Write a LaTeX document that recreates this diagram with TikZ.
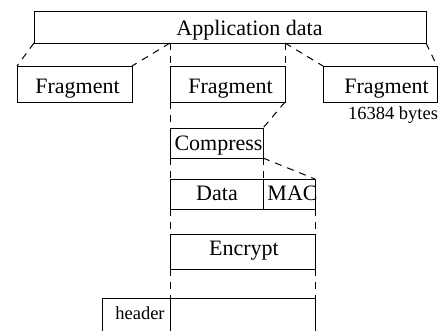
\documentclass[tikz,border=0pt]{standalone}
\usepackage{fontspec}
\setmainfont{Liberation Serif}
\begin{document}
\begin{tikzpicture}[x=1pt,y=-1pt,
  box/.style={draw, line width=1pt, inner sep=0pt, outer sep=0pt, anchor=north west},
  conn/.style={line width=1pt, dash pattern=on 7pt off 6pt},
  lbl/.style={inner sep=0pt, anchor=base, font=\fontsize{22}{26}\selectfont},
  small/.style={inner sep=0pt, anchor=base, font=\fontsize{18.5}{22}\selectfont}]
\useasboundingbox (0,0) rectangle (441,330);
% boxes
\node[box, minimum width=392pt, minimum height=32pt] (app) at (34,11) {};
\node[box, minimum width=115pt, minimum height=36pt] (f1) at (17,66) {};
\node[box, minimum width=115pt, minimum height=36pt] (f2) at (170,66) {};
\node[box, minimum width=114pt, minimum height=36pt] (f3) at (323,66) {};
\node[box, minimum width=93pt, minimum height=30pt] (comp) at (170,128) {};
\node[box, minimum width=93pt, minimum height=30pt] (data) at (170,179) {};
\node[box, minimum width=52pt, minimum height=30pt] (mac) at (263,179) {};
\node[box, minimum width=145pt, minimum height=35pt] (enc) at (170,234) {};
\node[box, minimum width=68pt, minimum height=45pt] (hdr) at (102,298) {};
\node[box, minimum width=145pt, minimum height=45pt] (pay) at (170,298) {};
% labels
\node[lbl] (tapp) at (249.5,35) {Application data};
\node[lbl] (tf1) at (77.5,93) {Fragment};
\node[lbl] (tf2) at (230.5,93) {Fragment};
\node[lbl] (tf3) at (386.5,93) {Fragment};
\node[small] (tbytes) at (393,119) {16384 bytes};
\node[lbl] (tcomp) at (218.5,150) {Compress};
\node[lbl] (tdata) at (217,200) {Data};
\node[lbl] (tmac) at (292.5,200) {MAC};
\node[lbl] (tenc) at (244,255) {Encrypt};
\node[small] (thdr) at (140,319) {header};
% connectors
\coordinate (a1) at (f2.north west |- app.south);
\coordinate (a2) at (f2.north east |- app.south);
\draw[conn] (app.south west) -- (f1.north west);
\draw[conn] (a1) -- (f1.north east);
\draw[conn] (a1) -- (f2.north west);
\draw[conn] (a2) -- (f2.north east);
\draw[conn] (a2) -- (f3.north west);
\draw[conn] (app.south east) -- (f3.north east);
\draw[conn] (f2.south west) -- (comp.north west);
\draw[conn] (f2.south east) -- (comp.north east);
\draw[conn] (comp.south west) -- (data.north west);
\draw[conn] (comp.south east) -- (mac.north west);
\draw[conn] (comp.south east) -- (mac.north east);
\draw[conn] (data.south west) -- (enc.north west);
\draw[conn] (mac.south east) -- (enc.north east);
\draw[conn] (enc.south west) -- (pay.north west);
\draw[conn] (enc.south east) -- (pay.north east);
\end{tikzpicture}
\end{document}
